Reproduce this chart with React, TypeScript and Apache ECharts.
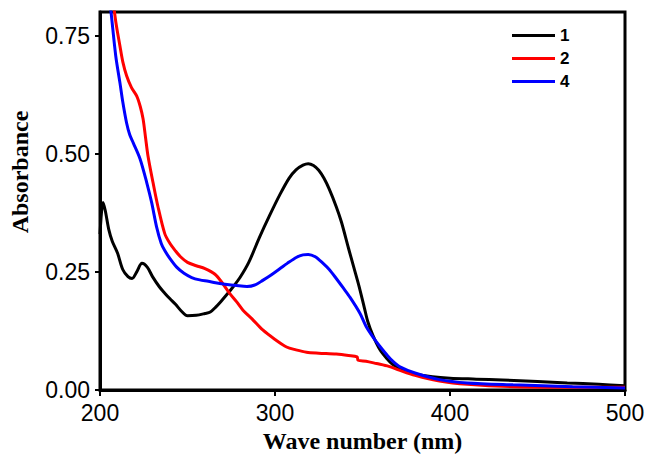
import React, { useEffect, useRef } from "react";
import * as echarts from "echarts";

const seriesNames = ["1", "2", "4"];
const seriesColors = ["#000000", "#ff0000", "#0000ff"];

const wl1 = [200, 201.7, 203, 205, 207, 210, 213, 216, 218.3, 221, 224, 227, 230, 234, 237, 240, 243, 247, 250, 255, 260, 263, 266, 269, 272, 276, 280, 285, 291, 297, 303, 308, 312, 316, 319, 322, 325, 328, 331, 335, 338, 342, 345, 348, 351, 353, 356, 360, 364, 367, 371, 375, 380, 390, 400, 415, 430, 450, 467, 485, 500];
const abs1 = [0.33, 0.397, 0.38, 0.34, 0.315, 0.29, 0.255, 0.24, 0.236, 0.25, 0.268, 0.26, 0.24, 0.218, 0.205, 0.193, 0.182, 0.165, 0.157, 0.158, 0.162, 0.165, 0.175, 0.187, 0.2, 0.218, 0.238, 0.27, 0.322, 0.37, 0.415, 0.448, 0.466, 0.476, 0.479, 0.475, 0.465, 0.448, 0.425, 0.388, 0.355, 0.3, 0.26, 0.22, 0.175, 0.145, 0.115, 0.085, 0.066, 0.055, 0.046, 0.04, 0.034, 0.028, 0.025, 0.023, 0.021, 0.018, 0.015, 0.012, 0.009];

const wl2 = [204, 207, 209, 211.4, 213, 215.2, 218, 221, 223, 224.6, 226, 227.4, 230.3, 233, 237, 240, 243, 246, 250, 255, 260, 265.7, 270, 274, 278, 281.7, 287, 293, 300, 306.6, 312, 318, 325, 335, 342, 346.9, 347.5, 352, 358, 365, 371, 380, 394, 410, 436, 470, 500];
const abs2 = [0.95, 0.84, 0.78, 0.728, 0.695, 0.665, 0.64, 0.622, 0.6, 0.574, 0.535, 0.496, 0.439, 0.39, 0.331, 0.31, 0.295, 0.282, 0.27, 0.263, 0.257, 0.245, 0.226, 0.205, 0.187, 0.169, 0.15, 0.127, 0.107, 0.091, 0.085, 0.08, 0.078, 0.076, 0.073, 0.07, 0.063, 0.061, 0.056, 0.05, 0.042, 0.031, 0.019, 0.012, 0.007, 0.006, 0.006];

const wl4 = [205, 206.3, 209, 211.4, 213, 215.2, 217, 219, 222.9, 226.7, 229.5, 232.4, 235, 237, 240, 243.8, 248, 252.4, 257, 261.9, 266, 271.4, 278, 284, 289, 293, 298, 302.9, 307, 312.4, 316, 319, 323, 327.5, 331, 335, 339, 342.9, 348.6, 352, 356, 360, 364, 367, 371.4, 380, 394, 410, 436, 470, 500];
const abs4 = [0.84, 0.8, 0.707, 0.65, 0.61, 0.565, 0.54, 0.523, 0.489, 0.439, 0.397, 0.344, 0.31, 0.295, 0.278, 0.26, 0.247, 0.238, 0.233, 0.23, 0.227, 0.224, 0.221, 0.219, 0.223, 0.232, 0.244, 0.257, 0.268, 0.281, 0.286, 0.287, 0.282, 0.268, 0.255, 0.236, 0.216, 0.196, 0.162, 0.135, 0.112, 0.092, 0.074, 0.062, 0.049, 0.036, 0.022, 0.015, 0.011, 0.007, 0.004];

const yTicks = [0, 0.25, 0.5, 0.75];
const xTicks = [200, 300, 400, 500];

const zip = (xs: number[], ys: number[]) => xs.map((x, i) => [x, ys[i]]);

export default function App() {
  const ref = useRef<HTMLDivElement>(null);
  useEffect(() => {
    if (!ref.current) return;
    const chart = echarts.init(ref.current, null, { renderer: "svg" });
    const datas = [zip(wl1, abs1), zip(wl2, abs2), zip(wl4, abs4)];
    chart.setOption({
      animation: false,
      backgroundColor: "#ffffff",
      grid: {
        left: 100,
        right: 30,
        top: 12,
        bottom: 71,
        show: true,
        borderColor: "#000",
        borderWidth: 3,
      },
      legend: {
        orient: "vertical",
        left: 507,
        top: 22,
        padding: 5,
        icon: "rect",
        itemWidth: 43,
        itemHeight: 3,
        itemGap: 6,
        data: seriesNames,
        textStyle: {
          fontFamily: "Liberation Sans, Arial, sans-serif",
          fontWeight: "bold",
          fontSize: 17,
          color: "#000",
        },
      },
      xAxis: {
        type: "value",
        min: 200,
        max: 500,
        interval: 100,
        name: "Wave number (nm)",
        nameLocation: "middle",
        nameGap: 34,
        nameTextStyle: {
          fontFamily: "Liberation Serif, Times New Roman, serif",
          fontWeight: "bold",
          fontSize: 24,
          color: "#000",
        },
        axisLine: { lineStyle: { color: "#000", width: 3 } },
        axisTick: { show: true, length: 6, lineStyle: { color: "#000", width: 2 }, customValues: xTicks },
        axisLabel: {
          margin: 11,
          fontFamily: "Liberation Sans, Arial, sans-serif",
          fontSize: 23,
          color: "#000",
          customValues: xTicks,
        },
        splitLine: { show: false },
      },
      yAxis: {
        type: "value",
        min: 0,
        max: 0.8,
        axisLine: { show: true, lineStyle: { color: "#000", width: 3 } },
        axisTick: { show: true, length: 5, lineStyle: { color: "#000", width: 2 }, customValues: yTicks },
        axisLabel: {
          margin: 10,
          fontFamily: "Liberation Sans, Arial, sans-serif",
          fontSize: 23,
          color: "#000",
          customValues: yTicks,
          formatter: (v: number) => v.toFixed(2),
        },
        splitLine: { show: false },
      },
      graphic: [
        {
          type: "text",
          x: 20,
          y: 172,
          rotation: Math.PI / 2,
          style: {
            text: "Absorbance",
            fontFamily: "Liberation Serif, Times New Roman, serif",
            fontWeight: "bold",
            fontSize: 24,
            fill: "#000",
            align: "center",
            verticalAlign: "middle",
          },
        },
      ],
      series: seriesNames.map((name, i) => ({
        name,
        type: "line",
        data: datas[i],
        smooth: 0.3,
        symbol: "none",
        clip: true,
        lineStyle: { color: seriesColors[i], width: 3 },
        itemStyle: { color: seriesColors[i] },
      })),
    });
    return () => chart.dispose();
  }, []);
  return <div ref={ref} style={{ width: 655, height: 461, position: "absolute", left: 0, top: 0 }} />;
}
